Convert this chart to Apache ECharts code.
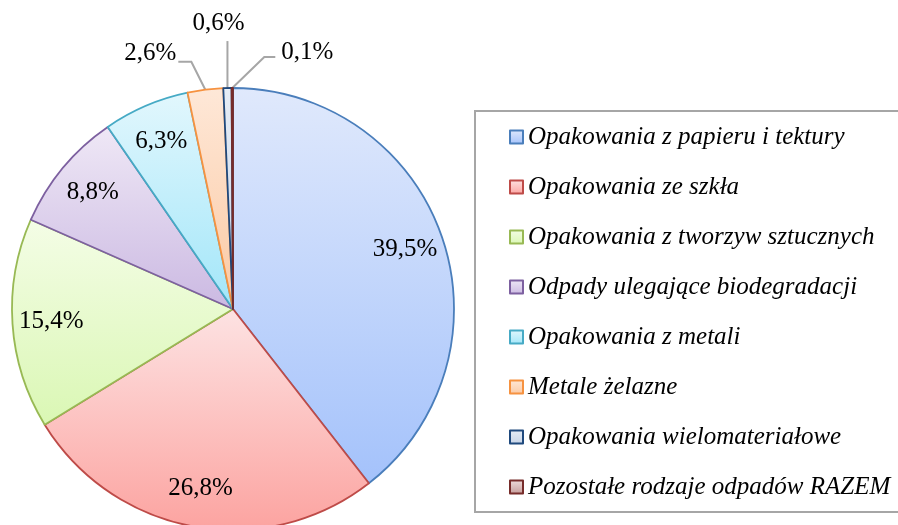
<!DOCTYPE html>
<html>
<head>
<meta charset="utf-8">
<script src="https://cdn.jsdelivr.net/npm/echarts@6/dist/echarts.min.js"></script>
<style>
html,body{margin:0;padding:0;background:#fff;}
#chart{width:898px;height:525px;}
</style>
</head>
<body>
<div id="chart"></div>
<script>
// ---- data ----
const categories = [
  'Opakowania z papieru i tektury',
  'Opakowania ze szkła',
  'Opakowania z tworzyw sztucznych',
  'Odpady ulegające biodegradacji',
  'Opakowania z metali',
  'Metale żelazne',
  'Opakowania wielomateriałowe',
  'Pozostałe rodzaje odpadów RAZEM'
];
const shares = [39.5, 26.8, 15.4, 8.8, 6.3, 2.6, 0.6, 0.1];

// ---- style ----
const topColors    = ['#e0e9fc','#fde3e3','#f4fde6','#efe8f6','#e2f7fd','#fee8d8','#e6edf6','#f0dede'];
const bottomColors = ['#a4c2fb','#fca3a0','#daf7b4','#cbb9e2','#a2e6f9','#fbc9a3','#c6d3e6','#c49a98'];
const borderColors = ['#4a7ebb','#be4b48','#98b954','#7d60a0','#46aac5','#f69240','#1f497d','#772c2a'];
const INSIDE_MIN = 5; // values above this get inside labels
// outside label placement offsets relative to slice edge point
const outsideCfg = {
  5: {line: [[-14,-28],[-27,-28]], label: [-29,-36], align: 'right'},
  6: {line: [[0,-24],[0,-47]], label: [-9,-65], align: 'center'},
  7: {line: [[32,-31],[43,-31]], label: [49,-36], align: 'left'}
};

const CX = 233, CY = 309, R = 221;
const fmt = v => v.toFixed(1).replace('.', ',') + '%';
const labelFont = {fontFamily: 'Liberation Serif', fontSize: 25, color: '#000'};

function grad(i) {
  return {type: 'linear', x: 0, y: 0, x2: 0, y2: 1,
    colorStops: [{offset: 0, color: topColors[i]}, {offset: 1, color: bottomColors[i]}]};
}

const mainData = categories.map((name, i) => ({
  name: name,
  value: shares[i],
  itemStyle: {color: grad(i), borderColor: borderColors[i], borderWidth: 1.8},
  label: {show: shares[i] <= INSIDE_MIN},
  labelLine: {show: shares[i] <= INSIDE_MIN}
}));

const ringData = categories.map((name, i) => ({
  name: name,
  value: shares[i],
  label: {show: shares[i] > INSIDE_MIN}
}));

const chart = echarts.init(document.getElementById('chart'), null, {renderer: 'canvas'});
chart.setOption({
  animation: false,
  backgroundColor: '#fff',
  legend: {
    orient: 'vertical',
    left: 475,
    top: 111,
    padding: [11, 140, 10, 34],
    borderColor: '#a6a6a6',
    borderWidth: 2,
    itemWidth: 13,
    itemHeight: 13,
    itemGap: 20,
    icon: 'rect',
    selectedMode: false,
    data: categories,
    textStyle: {fontFamily: 'Liberation Serif', fontStyle: 'italic', fontSize: 25, color: '#000', lineHeight: 30}
  },
  series: [
    {
      type: 'pie',
      center: [CX, CY],
      radius: [0, R],
      startAngle: 90,
      clockwise: true,
      avoidLabelOverlap: false,
      silent: true,
      data: mainData,
      label: Object.assign({position: 'outside', formatter: p => fmt(p.value)}, labelFont),
      labelLine: {show: true, length: 20, length2: 10, lineStyle: {color: '#a6a6a6', width: 2}},
      labelLayout: function (p) {
        const cfg = outsideCfg[p.dataIndex];
        if (!cfg || !p.labelLinePoints) return {};
        const e = p.labelLinePoints[0];
        return {
          x: e[0] + cfg.label[0],
          y: e[1] + cfg.label[1],
          align: cfg.align,
          verticalAlign: 'middle',
          labelLinePoints: [
            [e[0], e[1]],
            [e[0] + cfg.line[0][0], e[1] + cfg.line[0][1]],
            [e[0] + cfg.line[1][0], e[1] + cfg.line[1][1]]
          ]
        };
      }
    },
    {
      type: 'pie',
      center: [CX, CY],
      radius: [R * 0.62, R],
      startAngle: 90,
      clockwise: true,
      avoidLabelOverlap: false,
      silent: true,
      data: ringData,
      itemStyle: {color: 'rgba(0,0,0,0)', borderWidth: 0},
      label: Object.assign({position: 'inside', formatter: p => fmt(p.value)}, labelFont),
      labelLine: {show: false}
    }
  ]
});
</script>
</body>
</html>
